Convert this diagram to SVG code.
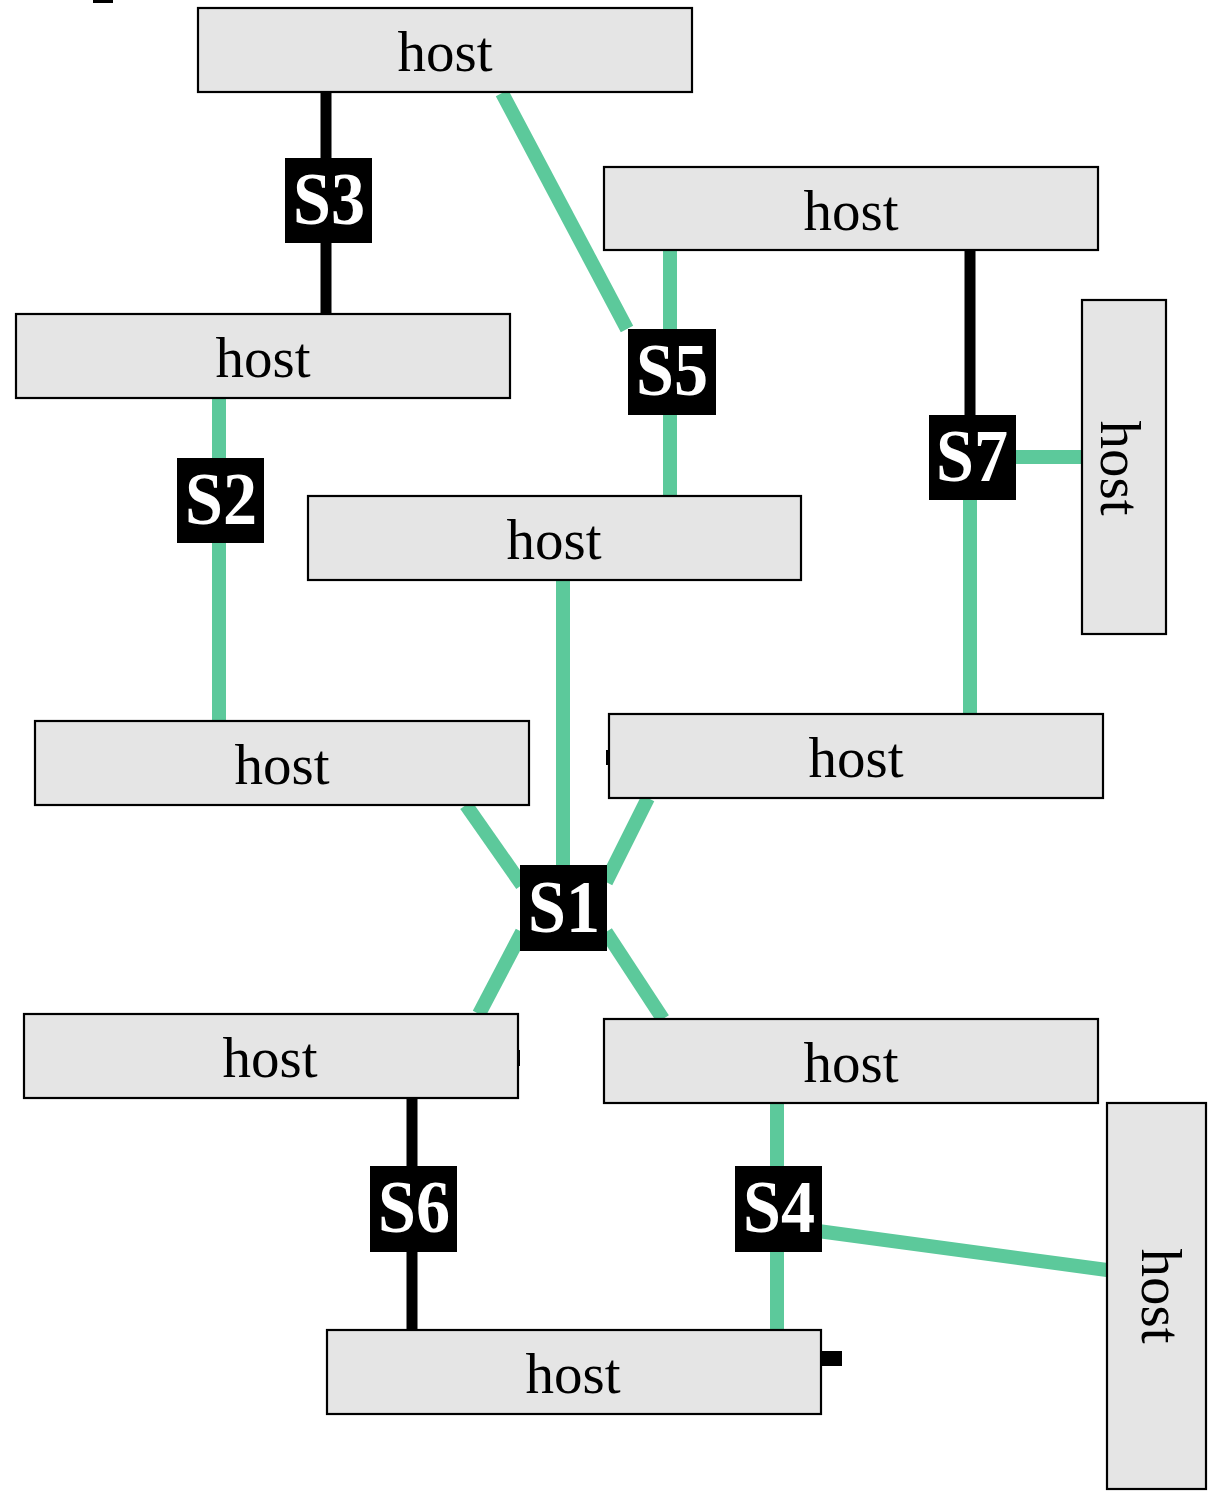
<svg xmlns="http://www.w3.org/2000/svg" width="1220" height="1498" viewBox="0 0 1220 1498">
<style>
.host{fill:#e5e5e5;stroke:#000;stroke-width:2.2}
.ht{font-family:"Liberation Serif","Times New Roman",serif;font-size:57px;fill:#000;text-anchor:middle}
.sw{fill:#000}
.st{font-family:"Liberation Serif","Times New Roman",serif;font-size:74px;font-weight:bold;fill:#fff;text-anchor:middle}
.g{stroke:#5cc99b;stroke-width:14;fill:none}
.k{stroke:#000;stroke-width:11;fill:none}
.port{fill:#000}
</style>
<rect width="1220" height="1498" fill="#fff"/>
<g id="connectors">
<line class="k" x1="326" y1="92" x2="326" y2="314"/>
<line class="g" x1="502" y1="93" x2="627" y2="329"/>
<line class="g" x1="670" y1="250" x2="670" y2="496"/>
<line class="k" x1="970" y1="250" x2="970" y2="415"/>
<line class="g" x1="1010" y1="457" x2="1082" y2="457"/>
<line class="g" x1="970" y1="500" x2="970" y2="714"/>
<line class="g" x1="219" y1="398" x2="219" y2="721"/>
<line class="g" x1="563" y1="580" x2="563" y2="870"/>
<line class="g" x1="466" y1="805" x2="522" y2="885"/>
<line class="g" x1="648" y1="798" x2="606" y2="882"/>
<line class="g" x1="522" y1="932" x2="479" y2="1014"/>
<line class="g" x1="606" y1="932" x2="663" y2="1019"/>
<line class="k" x1="412" y1="1098" x2="412" y2="1330"/>
<line class="g" x1="777" y1="1103" x2="777" y2="1330"/>
<line class="g" x1="818" y1="1231" x2="1107" y2="1270"/>
</g>
<g id="ports">
<rect class="port" x="93" y="0" width="20" height="3"/>
<rect class="port" x="606" y="750" width="4" height="15"/>
<rect class="port" x="517" y="1050" width="3" height="16"/>
<rect class="port" x="1097" y="1050" width="2" height="15"/>
<rect class="port" x="821" y="1351" width="21" height="15"/>
</g>
<g id="host1"><rect class="host" x="198" y="8" width="494" height="84"/><text class="ht" x="445" y="71">host</text></g>
<g id="host2"><rect class="host" x="16" y="314" width="494" height="84"/><text class="ht" x="263" y="377">host</text></g>
<g id="host3"><rect class="host" x="604" y="167" width="494" height="83"/><text class="ht" x="851" y="230">host</text></g>
<g id="host4"><rect class="host" x="308" y="496" width="493" height="84"/><text class="ht" x="554" y="559">host</text></g>
<g id="host5"><rect class="host" x="1082" y="300" width="84" height="334"/><text class="ht" transform="translate(1101,468) rotate(90)">host</text></g>
<g id="host6"><rect class="host" x="35" y="721" width="494" height="84"/><text class="ht" x="282" y="784">host</text></g>
<g id="host7"><rect class="host" x="609" y="714" width="494" height="84"/><text class="ht" x="856" y="777">host</text></g>
<g id="host8"><rect class="host" x="24" y="1014" width="494" height="84"/><text class="ht" x="270" y="1077">host</text></g>
<g id="host9"><rect class="host" x="604" y="1019" width="494" height="84"/><text class="ht" x="851" y="1082">host</text></g>
<g id="host10"><rect class="host" x="1107" y="1103" width="99" height="386"/><text class="ht" transform="translate(1142,1296) rotate(90)">host</text></g>
<g id="host11"><rect class="host" x="327" y="1330" width="494" height="84"/><text class="ht" x="573" y="1393">host</text></g>
<g id="S3"><rect class="sw" x="285" y="158" width="87" height="85"/><text class="st" x="329" y="224" textLength="72" lengthAdjust="spacingAndGlyphs">S3</text></g>
<g id="S5"><rect class="sw" x="628" y="329" width="88" height="86"/><text class="st" x="672" y="395" textLength="72" lengthAdjust="spacingAndGlyphs">S5</text></g>
<g id="S2"><rect class="sw" x="177" y="458" width="87" height="85"/><text class="st" x="221" y="524" textLength="72" lengthAdjust="spacingAndGlyphs">S2</text></g>
<g id="S7"><rect class="sw" x="929" y="415" width="87" height="85"/><text class="st" x="972" y="481" textLength="72" lengthAdjust="spacingAndGlyphs">S7</text></g>
<g id="S1"><rect class="sw" x="520" y="865" width="87" height="86"/><text class="st" x="564" y="932" textLength="72" lengthAdjust="spacingAndGlyphs">S1</text></g>
<g id="S6"><rect class="sw" x="370" y="1166" width="87" height="86"/><text class="st" x="414" y="1232" textLength="72" lengthAdjust="spacingAndGlyphs">S6</text></g>
<g id="S4"><rect class="sw" x="735" y="1166" width="87" height="86"/><text class="st" x="779" y="1232" textLength="72" lengthAdjust="spacingAndGlyphs">S4</text></g>
</svg>
